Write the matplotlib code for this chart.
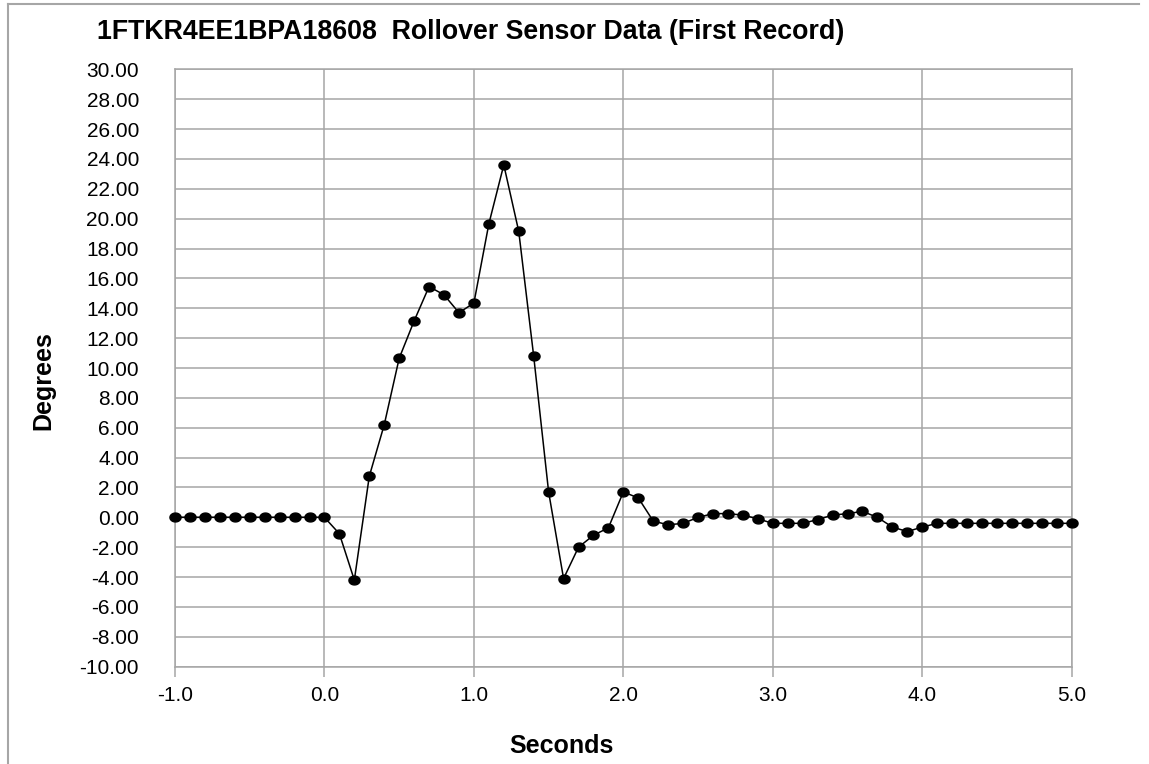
import matplotlib
matplotlib.use("Agg")
import matplotlib.pyplot as plt
import numpy as np
from matplotlib.path import Path
from matplotlib.lines import Line2D
from matplotlib.ticker import FormatStrFormatter, MultipleLocator

plt.rcParams['font.family'] = ['Liberation Sans', 'DejaVu Sans']
plt.rcParams['axes.unicode_minus'] = False

title = "1FTKR4EE1BPA18608  Rollover Sensor Data (First Record)"
x_label = "Seconds"
y_label = "Degrees"

seconds = [-1.0, -0.9, -0.8, -0.7, -0.6, -0.5, -0.4, -0.3, -0.2, -0.1,
           0.0, 0.1, 0.2, 0.3, 0.4, 0.5, 0.6, 0.7, 0.8, 0.9,
           1.0, 1.1, 1.2, 1.3, 1.4, 1.5, 1.6, 1.7, 1.8, 1.9,
           2.0, 2.1, 2.2, 2.3, 2.4, 2.5, 2.6, 2.7, 2.8, 2.9,
           3.0, 3.1, 3.2, 3.3, 3.4, 3.5, 3.6, 3.7, 3.8, 3.9,
           4.0, 4.1, 4.2, 4.3, 4.4, 4.5, 4.6, 4.7, 4.8, 4.9, 5.0]

degrees = [0.00, 0.00, 0.00, 0.00, 0.00, 0.00, 0.00, 0.00, 0.00, 0.00,
           0.00, -1.10, -4.20, 2.75, 6.20, 10.65, 13.15, 15.45, 14.90, 13.70,
           14.35, 19.65, 23.60, 19.15, 10.80, 1.70, -4.10, -2.00, -1.20, -0.70,
           1.70, 1.30, -0.25, -0.50, -0.40, 0.00, 0.25, 0.25, 0.15, -0.10,
           -0.40, -0.40, -0.40, -0.15, 0.15, 0.25, 0.40, 0.00, -0.65, -0.95,
           -0.65, -0.40, -0.40, -0.40, -0.40, -0.40, -0.40, -0.40, -0.40, -0.40, -0.40]

grid_color = '#A6A6A6'

fig = plt.figure(figsize=(11.49, 7.64), dpi=100)
W, H = 1149, 764

# outer chart border (left and top)
fig.add_artist(Line2D([7.5 / W, 7.5 / W], [0, 1 - 3.5 / H], transform=fig.transFigure,
                      color=grid_color, lw=1.5))
fig.add_artist(Line2D([7.5 / W, 1139 / W], [1 - 3.5 / H, 1 - 3.5 / H], transform=fig.transFigure,
                      color=grid_color, lw=1.5))

left, right, top, bottom = 175, 1071.7, 69.3, 666.7
ax = fig.add_axes([left / W, 1 - bottom / H, (right - left) / W, (bottom - top) / H])

# ellipse marker
t = np.linspace(0, 2 * np.pi, 60)
verts = np.column_stack([np.cos(t), 0.8 * np.sin(t)])
ellipse = Path(verts, closed=True)

ax.plot(seconds, degrees, color='black', lw=1.1, marker=ellipse, markersize=8,
        markerfacecolor='black', markeredgecolor='black', clip_on=False, zorder=5)

ax.set_xlim(-1.0, 5.0)
ax.set_ylim(-10.0, 30.0)
ax.xaxis.set_major_locator(MultipleLocator(1.0))
ax.yaxis.set_major_locator(MultipleLocator(2.0))
ax.xaxis.set_major_formatter(FormatStrFormatter('%.1f'))
ax.yaxis.set_major_formatter(FormatStrFormatter('%.2f'))

ax.grid(True, color=grid_color, lw=1.1)
ax.set_axisbelow(True)
for s in ax.spines.values():
    s.set_color(grid_color)
    s.set_linewidth(1.1)

ax.tick_params(axis='x', direction='out', length=7, width=1.1, color=grid_color,
               labelsize=15, pad=7, labelcolor='black')
ax.tick_params(axis='y', length=0, labelsize=15, pad=26, labelcolor='black')

fig.text(471 / W, 1 - 32 / H, title, ha='center', va='center', fontsize=19.3,
         fontweight='bold')
fig.text(561 / W, 1 - 746 / H, x_label, ha='center', va='center', fontsize=18,
         fontweight='bold')
fig.text(43 / W, 1 - 381 / H, y_label, ha='center', va='center', fontsize=18,
         fontweight='bold', rotation=90)

fig.savefig('out.png', dpi=100)
